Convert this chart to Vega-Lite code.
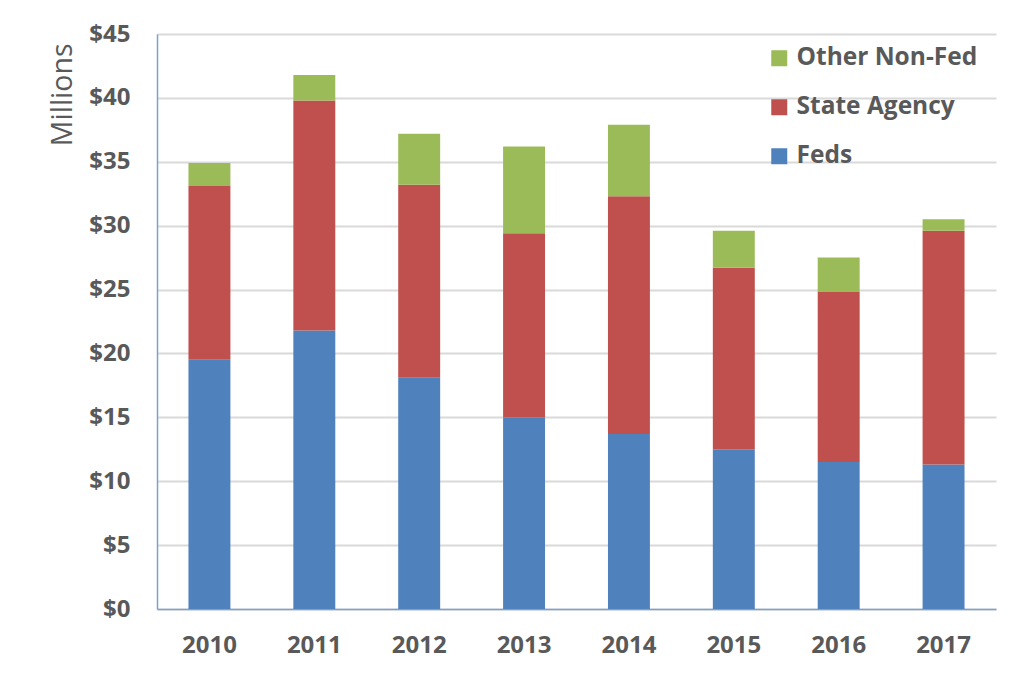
{
  "$schema": "https://vega.github.io/schema/vega-lite/v6.json",
  "width": 839,
  "height": 575,
  "autosize": {"type": "none"},
  "padding": {"left": 157, "top": 34, "right": 21, "bottom": 68},
  "background": "#ffffff",
  "data": {
    "values": [
      {"year": "2010", "series": "Feds", "value": 19.5},
      {"year": "2010", "series": "State Agency", "value": 13.6},
      {"year": "2010", "series": "Other Non-Fed", "value": 1.8},
      {"year": "2011", "series": "Feds", "value": 21.8},
      {"year": "2011", "series": "State Agency", "value": 18.0},
      {"year": "2011", "series": "Other Non-Fed", "value": 2.0},
      {"year": "2012", "series": "Feds", "value": 18.1},
      {"year": "2012", "series": "State Agency", "value": 15.1},
      {"year": "2012", "series": "Other Non-Fed", "value": 4.0},
      {"year": "2013", "series": "Feds", "value": 15.0},
      {"year": "2013", "series": "State Agency", "value": 14.4},
      {"year": "2013", "series": "Other Non-Fed", "value": 6.8},
      {"year": "2014", "series": "Feds", "value": 13.7},
      {"year": "2014", "series": "State Agency", "value": 18.6},
      {"year": "2014", "series": "Other Non-Fed", "value": 5.6},
      {"year": "2015", "series": "Feds", "value": 12.5},
      {"year": "2015", "series": "State Agency", "value": 14.2},
      {"year": "2015", "series": "Other Non-Fed", "value": 2.9},
      {"year": "2016", "series": "Feds", "value": 11.5},
      {"year": "2016", "series": "State Agency", "value": 13.3},
      {"year": "2016", "series": "Other Non-Fed", "value": 2.7},
      {"year": "2017", "series": "Feds", "value": 11.3},
      {"year": "2017", "series": "State Agency", "value": 18.3},
      {"year": "2017", "series": "Other Non-Fed", "value": 0.9}
    ]
  },
  "transform": [
    {"window": [{"op": "row_number", "as": "stackpos"}], "groupby": ["year"]}
  ],
  "mark": {"type": "bar"},
  "encoding": {
    "x": {
      "field": "year",
      "type": "nominal",
      "scale": {"paddingInner": 0.6, "paddingOuter": 0.3},
      "axis": {
        "title": null,
        "labelAngle": 0,
        "ticks": false,
        "labelPadding": 24,
        "labelFont": "Open Sans",
        "labelFontWeight": "bold",
        "labelFontSize": 24,
        "labelColor": "#595959",
        "domainColor": "#7ba0d2",
        "domainWidth": 1.5,
        "grid": false
      }
    },
    "y": {
      "field": "value",
      "type": "quantitative",
      "stack": "zero",
      "scale": {"domain": [0, 45], "nice": false},
      "axis": {
        "title": "Millions",
        "titleFont": "Open Sans",
        "titleFontWeight": "normal",
        "titleFontSize": 28.5,
        "titleColor": "#595959",
        "titleAngle": 270,
        "titleAlign": "right",
        "titleBaseline": "alphabetic",
        "titleX": -86,
        "titleY": 9,
        "values": [0, 5, 10, 15, 20, 25, 30, 35, 40, 45],
        "format": "$.0f",
        "ticks": false,
        "labelPadding": 27,
        "labelFont": "Open Sans",
        "labelFontWeight": "bold",
        "labelFontSize": 24,
        "labelColor": "#595959",
        "domainColor": "#7ba0d2",
        "domainWidth": 1.5,
        "gridColor": "#d9d9d9",
        "gridWidth": 2
      }
    },
    "order": {"field": "stackpos", "type": "quantitative", "sort": "ascending"},
    "color": {
      "field": "series",
      "type": "nominal",
      "scale": {
        "domain": ["Other Non-Fed", "State Agency", "Feds"],
        "range": ["#9bbb59", "#c0504d", "#4f81bd"]
      },
      "legend": {
        "title": null,
        "orient": "none",
        "legendX": 610,
        "legendY": 12,
        "symbolType": "square",
        "symbolSize": 256,
        "symbolStrokeWidth": 0,
        "symbolOpacity": 1,
        "labelFont": "Open Sans",
        "labelFontWeight": "bold",
        "labelFontSize": 24.5,
        "labelColor": "#595959",
        "labelOffset": 5,
        "rowPadding": 24,
        "labelLimit": 400
      }
    }
  },
  "config": {
    "view": {"stroke": null}
  }
}
